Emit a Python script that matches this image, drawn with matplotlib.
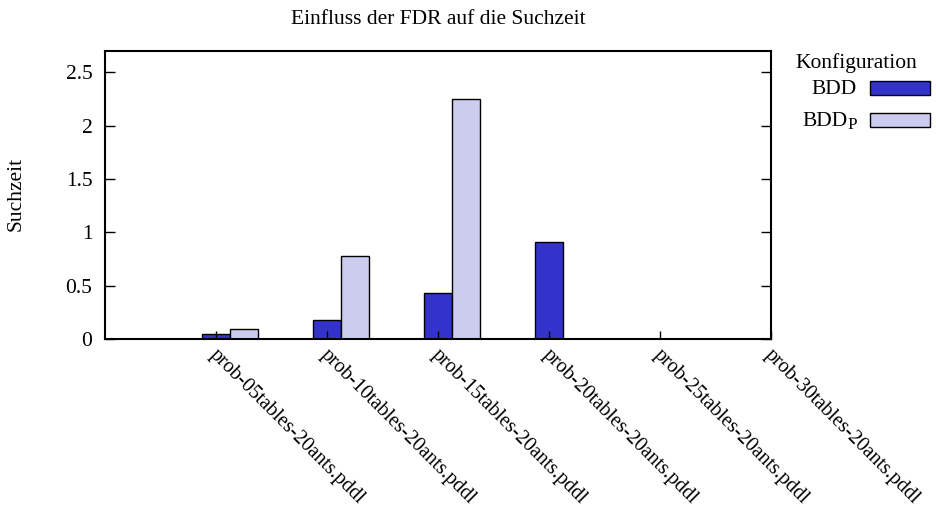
import matplotlib
matplotlib.use("Agg")
import matplotlib.pyplot as plt
import numpy as np
from matplotlib.patches import Rectangle

plt.rcParams['font.family'] = ['Liberation Serif', 'DejaVu Serif']

categories = [
    "prob-05tables-20ants.pddl",
    "prob-10tables-20ants.pddl",
    "prob-15tables-20ants.pddl",
    "prob-20tables-20ants.pddl",
    "prob-25tables-20ants.pddl",
    "prob-30tables-20ants.pddl",
]
bdd = [0.045, 0.175, 0.435, 0.91, 0.003, 0.0]
bdd_p = [0.09, 0.78, 2.25, 0.0, 0.0, 0.0]
series_base = ["BDD", "BDD"]
series_sub = ["", "P"]
yticks = [0, 0.5, 1, 1.5, 2, 2.5]
ytick_labels = ["0", "0.5", "1", "1.5", "2", "2.5"]

c_bdd = "#3333cc"
c_bddp = "#ccccee"
FS = 15.5
FS_X = 14.5

W, H = 936, 518
fig = plt.figure(figsize=(W / 100, H / 100), dpi=100)
ax = fig.add_axes([105 / W, 1 - 339 / H, (771 - 105) / W, (339 - 51) / H])

x = np.arange(1, len(categories) + 1)
w = 0.25
ax.bar(x, bdd, width=w, color=c_bdd, edgecolor="black", linewidth=1.0, zorder=2)
ax.bar(x + w, bdd_p, width=w, color=c_bddp, edgecolor="black", linewidth=1.0, zorder=2)
ax.set_axisbelow(False)

ax.set_xlim(0, 6)
ax.set_ylim(0, 2.7)
ax.set_yticks(yticks)
ax.set_yticklabels(ytick_labels, fontsize=FS)
ax.set_xticks(x)
ax.set_xticklabels([])
for xi, lab in zip(x, categories):
    ax.annotate(lab, xy=(xi, 0), xycoords="data", xytext=(2, -5),
                textcoords="offset points", rotation=-45, ha="left", va="top",
                rotation_mode="anchor", fontsize=FS_X)

ax.tick_params(axis="y", direction="in", length=7, width=1, right=True, pad=9)
ax.tick_params(axis="x", direction="in", length=6, width=1, top=False)
for s in ax.spines.values():
    s.set_linewidth(1.5)

fig.text(438 / W, 1 - 19 / H, "Einfluss der FDR auf die Suchzeit", fontsize=FS,
         ha="center", va="center")
fig.text(16 / W, 1 - 194 / H, "Suchzeit", rotation=90, fontsize=FS,
         ha="center", va="center")

# legend drawn in figure pixel coordinates
fig.text(856 / W, 1 - 63 / H, "Konfiguration", fontsize=FS, ha="center", va="center")
renderer = fig.canvas.get_renderer()
for i, (base, sub, col) in enumerate(zip(series_base, series_sub, [c_bdd, c_bddp])):
    yc = 88 + 32 * i
    right = 857
    if sub:
        t = fig.text(right / W, 1 - (yc + 9) / H, sub, fontsize=FS * 0.8,
                     ha="right", va="baseline")
        right -= t.get_window_extent(renderer).width
    fig.text(right / W, 1 - (yc + 6) / H, base, fontsize=FS, ha="right", va="baseline")
    fig.patches.append(Rectangle((870 / W, 1 - (yc + 7) / H), 60 / W, 14 / H,
                                 transform=fig.transFigure, facecolor=col,
                                 edgecolor="black", linewidth=1.0))

fig.savefig("out.png", dpi=100)
